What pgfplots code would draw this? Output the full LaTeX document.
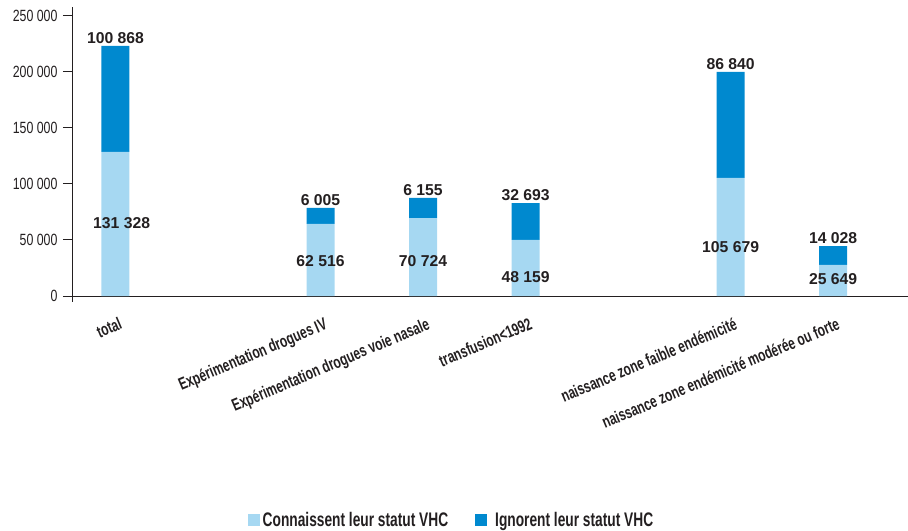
\documentclass[border=0pt]{standalone}
\usepackage{fontspec}
\setmainfont{Liberation Sans}
\newfontfamily\cond[FakeStretch=0.76]{Liberation Sans}
\newfontfamily\condb[FakeStretch=0.70]{Liberation Sans Bold}
\usepackage{pgfplots}
\pgfplotsset{compat=1.18}
\definecolor{lightb}{RGB}{166,216,242}
\definecolor{darkb}{RGB}{0,137,207}
\definecolor{txt}{RGB}{35,31,32}
\tikzset{vlab/.style={font=\bfseries\fontsize{15.8}{17}\selectfont, text=txt}}
\begin{document}
\begin{tikzpicture}
\useasboundingbox (0,0) rectangle (908bp,531bp);
\begin{axis}[
  at={(72bp,235bp)}, anchor=south west,
  scale only axis, width=836bp, height=289bp,
  xmin=-0.424, xmax=7.73, ymin=0, ymax=258000,
  axis x line=bottom, axis y line=left,
  axis line style={-, draw=txt, line width=1pt},
  ybar stacked, bar width=28bp,
  xtick={0,2,3,4,6,7},
  xticklabels={total, Expérimentation drogues IV, Expérimentation drogues voie nasale, transfusion<1992, naissance zone faible endémicité, naissance zone endémicité modérée ou forte},
  x tick style={draw=none},
  xticklabel style={rotate=23, anchor=north east, xshift=-2bp, yshift=-12bp, inner sep=0pt,
     font=\condb\fontsize{17.2}{19}\selectfont, text=txt},
  ytick={0,50000,100000,150000,200000,250000},
  yticklabels={0,50 000,100 000,150 000,200 000,250 000},
  yticklabel style={font=\cond\fontsize{16.3}{18}\selectfont, text=txt, xshift=-2bp},
  y tick style={draw=txt, line width=1pt},
  tick align=outside, major tick length=9bp,
  scaled y ticks=false,
  legend style={at={(0.4545,-0.775)}, anchor=center, draw=none, fill=none,
     legend columns=2, font=\condb\fontsize{19.7}{21}\selectfont, text=txt,
     /tikz/every even column/.append style={column sep=24bp},
     inner sep=0pt, nodes={inner xsep=3bp}},
  legend image code/.code={\fill[#1, draw=none] (0bp,-6bp) rectangle (12bp,6bp);},
  clip=false,
]
\addplot[fill=lightb, draw=none] coordinates {(0,128600) (2,64300) (3,69600) (4,50000) (6,105400) (7,27700)};
\addplot[fill=darkb, draw=none] coordinates {(0,94600) (2,14300) (3,17900) (4,33000) (6,94600) (7,16900)};
\legend{Connaissent leur statut VHC, \hspace{5bp}Ignorent leur statut VHC}
\coordinate (a0) at (axis cs:0.06,65200);
\coordinate (a2) at (axis cs:2,31250);
\coordinate (a3) at (axis cs:3,31250);
\coordinate (a4) at (axis cs:4,17000);
\coordinate (a6) at (axis cs:6,43750);
\coordinate (a7) at (axis cs:7,15200);
\coordinate (b0) at (axis cs:0,223200);
\coordinate (b2) at (axis cs:2,78600);
\coordinate (b3) at (axis cs:3,87500);
\coordinate (b4) at (axis cs:4,83000);
\coordinate (b6) at (axis cs:6,200000);
\coordinate (b7) at (axis cs:7,44600);
\draw[txt, line width=1pt] (rel axis cs:0,0) -- ([yshift=-6bp]rel axis cs:0,0);
\end{axis}
\node[vlab] at (a0) {131 328};
\node[vlab] at (a2) {62 516};
\node[vlab] at (a3) {70 724};
\node[vlab] at (a4) {48 159};
\node[vlab] at (a6) {105 679};
\node[vlab] at (a7) {25 649};
\node[vlab, anchor=south, inner sep=2bp] at (b0) {100 868};
\node[vlab, anchor=south, inner sep=2bp] at (b2) {6 005};
\node[vlab, anchor=south, inner sep=2bp] at (b3) {6 155};
\node[vlab, anchor=south, inner sep=2bp] at (b4) {32 693};
\node[vlab, anchor=south, inner sep=2bp] at (b6) {86 840};
\node[vlab, anchor=south, inner sep=2bp] at (b7) {14 028};
\end{tikzpicture}
\end{document}
